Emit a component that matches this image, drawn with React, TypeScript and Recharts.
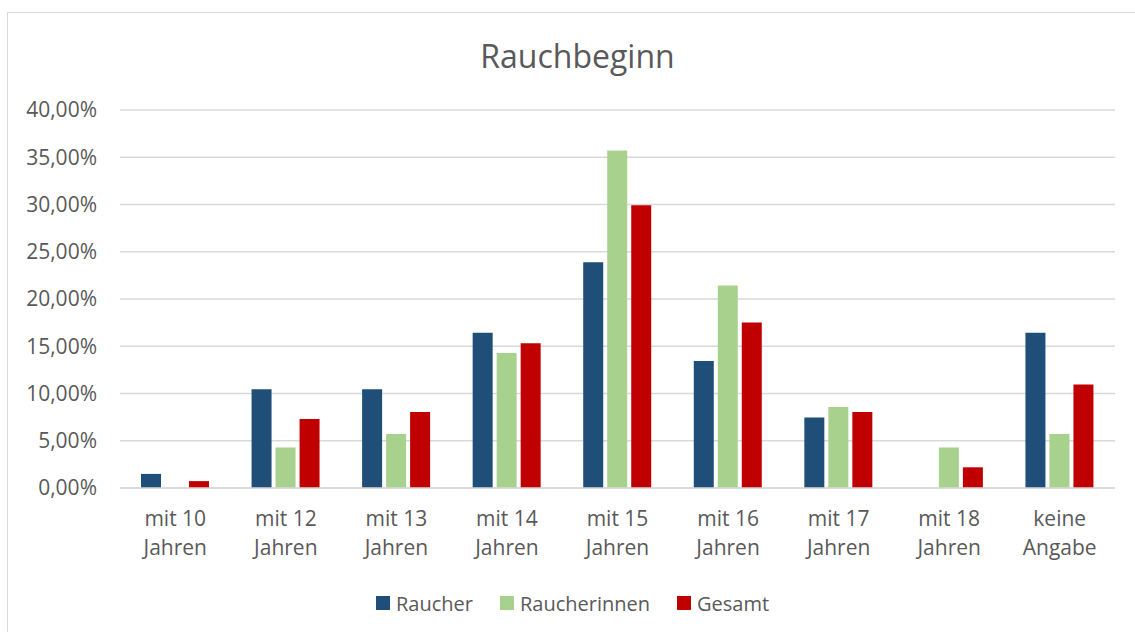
import React from 'react';
import { BarChart, Bar, XAxis, YAxis, CartesianGrid, Legend } from 'recharts';

const categories = [
  'mit 10\nJahren',
  'mit 12\nJahren',
  'mit 13\nJahren',
  'mit 14\nJahren',
  'mit 15\nJahren',
  'mit 16\nJahren',
  'mit 17\nJahren',
  'mit 18\nJahren',
  'keine\nAngabe',
];
const raucher = [1.49, 10.45, 10.45, 16.42, 23.88, 13.43, 7.46, 0, 16.42];
const raucherinnen = [0, 4.29, 5.71, 14.29, 35.71, 21.43, 8.57, 4.29, 5.71];
const gesamt = [0.73, 7.3, 8.03, 15.33, 29.93, 17.52, 8.03, 2.19, 10.95];
const yTicks = [0, 5, 10, 15, 20, 25, 30, 35, 40];
const seriesOrder = ['raucher', 'raucherinnen', 'gesamt'];

const data = categories.map((name, i) => ({
  name,
  raucher: raucher[i],
  raucherinnen: raucherinnen[i],
  gesamt: gesamt[i],
}));

const FONT = '"Open Sans", "Noto Sans", sans-serif';
const TEXT = '#595959';
const GRID = '#D9D9D9';

const fmtPct = (v: number) => `${v.toFixed(2).replace('.', ',')}%`;

const CategoryTick = ({ x, y, payload }: any) => {
  const lines = String(payload.value).split('\n');
  return (
    <text x={x} y={y} textAnchor="middle" fill={TEXT} fontSize={21} fontFamily={FONT}>
      {lines.map((l, i) => (
        <tspan key={i} x={x} dy={i === 0 ? 38 : 29}>
          {l}
        </tspan>
      ))}
    </text>
  );
};

const LegendContent = ({ payload }: any) => {
  const items = [...(payload || [])].sort(
    (a: any, b: any) => seriesOrder.indexOf(a.dataKey) - seriesOrder.indexOf(b.dataKey)
  );
  return (
    <div
      style={{
        height: 30,
        display: 'flex',
        justifyContent: 'center',
        alignItems: 'center',
        paddingLeft: 30,
        fontFamily: FONT,
        fontSize: 20,
        color: TEXT,
      }}
    >
      {items.map((p: any, i: number) => (
        <div key={i} style={{ display: 'flex', alignItems: 'center', marginLeft: i ? 27 : 0 }}>
          <span style={{ width: 14, height: 14, background: p.color, marginRight: 6, display: 'inline-block' }} />
          <span>{p.value}</span>
        </div>
      ))}
    </div>
  );
};

export default function App() {
  return (
    <div style={{ position: 'absolute', left: 0, top: 0, width: 1135, height: 632, overflow: 'hidden', background: '#fff' }}>
      <div
        style={{
          position: 'absolute',
          left: 7,
          top: 12,
          width: 1160,
          height: 660,
          border: `1px solid ${GRID}`,
          boxSizing: 'border-box',
        }}
      />
      <div
        style={{
          position: 'absolute',
          left: 10,
          top: 34,
          width: 1135,
          textAlign: 'center',
          fontFamily: FONT,
          fontSize: 32,
          color: TEXT,
          lineHeight: '44px',
        }}
      >
        Rauchbeginn
      </div>
      <div style={{ position: 'absolute', left: 0, top: 0 }}>
        <BarChart
          width={1135}
          height={632}
          data={data}
          margin={{ top: 110, right: 20, bottom: 14, left: 0 }}
          barSize={20}
          barGap={4}
        >
          <CartesianGrid vertical={false} stroke={GRID} strokeWidth={1.5} />
          <XAxis
            dataKey="name"
            interval={0}
            height={100}
            tickLine={false}
            tickSize={0}
            tickMargin={0}
            axisLine={{ stroke: GRID, strokeWidth: 1.5 }}
            tick={<CategoryTick />}
          />
          <YAxis
            width={120}
            domain={[0, 40]}
            ticks={yTicks}
            tickFormatter={fmtPct}
            axisLine={false}
            tickLine={false}
            tickSize={0}
            tickMargin={23}
            tick={{ fill: TEXT, fontSize: 21, fontFamily: FONT }}
          />
          <Legend verticalAlign="bottom" content={<LegendContent />} />
          <Bar dataKey="raucher" name="Raucher" fill="#1F4E79" isAnimationActive={false} />
          <Bar dataKey="raucherinnen" name="Raucherinnen" fill="#A9D18E" isAnimationActive={false} />
          <Bar dataKey="gesamt" name="Gesamt" fill="#C00000" isAnimationActive={false} />
        </BarChart>
      </div>
    </div>
  );
}
